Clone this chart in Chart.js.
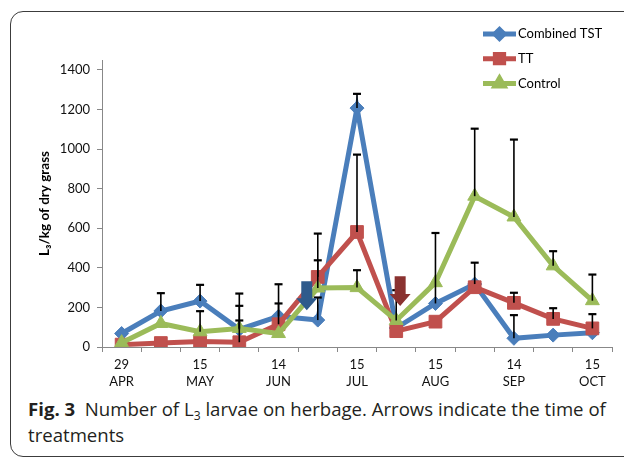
<!DOCTYPE html>
<html>
<head>
<meta charset="utf-8">
<script src="https://cdn.jsdelivr.net/npm/chart.js@4.4.0/dist/chart.umd.min.js"></script>
<style>
  html, body { margin: 0; padding: 0; background: #fff; }
  body { width: 624px; height: 461px; overflow: hidden; position: relative; }
  .frame {
    position: absolute; left: 10px; top: 11px; width: 660px; height: 444px;
    border: 1.4px solid #3c3c3c; border-radius: 13px;
  }
  #chart { position: absolute; left: 0; top: 0; }
  .caption {
    position: absolute; left: 28px; top: 396px; width: 592px;
    font-family: "Open Sans", sans-serif; font-size: 18.6px; line-height: 26px; color: #231f20;
  }
  .caption sub { font-size: 0.65em; line-height: 0; vertical-align: -0.3em; }
</style>
</head>
<body>
<div class="frame"></div>
<canvas id="chart" width="624" height="395"></canvas>
<div class="caption"><b>Fig. 3</b>&nbsp; Number of L<sub>3</sub> larvae on herbage. Arrows indicate the time of treatments</div>

<script>
// --- data --- //
// sampling dates, only every second one is labelled on the axis
const sampleLabels = ["29 APR", "", "15 MAY", "", "14 JUN", "", "15 JUL", "", "15 AUG", "", "14 SEP", "", "15 OCT"];

const combinedTST = [68, 182, 232, 89, 155, 136, 1207, 96, 220, 318, 44, 60, 72];
const ttValues    = [12, 20, 28, 24, 115, 354, 581, 80, 128, 302, 223, 142, 94];
const controlVals = [22, 119, 77, 94, 68, 298, 300, 134, 325, 762, 657, 410, 234];

// upper error bars (null = no bar drawn)
const combinedErr = [null, 90, 82, 181, 162, 114, 72, null, 356, 108, 117, null, null];
const ttErr       = [null, null, null, 110, 105, 219, 391, null, null, null, 51, 54, 72];
const controlErr  = [null, null, 104, 114, null, 140, 88, 153, null, 341, 391, 74, 132];

const yTicks = [0, 200, 400, 600, 800, 1000, 1200, 1400];

// treatment arrows: category position, top and tip value
const treatmentArrows = [
    { at: 4.72, top: 332, tip: 186, color: '#2f5b8c' },
    { at: 7.1, top: 358, tip: 207, color: '#8a3230' }
];

const FONT = 'Lato, "Open Sans", sans-serif';

// -- error bars drawn on top of the lines --//
const errorBars = {
    id: 'errorBars',
    afterDatasetsDraw(chart) {
        const ctx = chart.ctx;
        const y = chart.scales.y;
        ctx.save();
        ctx.strokeStyle = '#000';
        chart.data.datasets.forEach((ds, i) => {
            const meta = chart.getDatasetMeta(i);
            ds.errUp.forEach((err, j) => {
                if (err === null) return;
                const pt = meta.data[j];
                const top = y.getPixelForValue(ds.data[j] + err);
                ctx.lineWidth = 1.6;
                ctx.beginPath();
                ctx.moveTo(pt.x, pt.y);
                ctx.lineTo(pt.x, top);
                ctx.stroke();
                ctx.lineWidth = 2.2;
                ctx.beginPath();
                ctx.moveTo(pt.x - 4, top);
                ctx.lineTo(pt.x + 4, top);
                ctx.stroke();
            });
        });
        ctx.restore();
    }
};

// -- block arrows marking treatments --//
const arrows = {
    id: 'arrows',
    afterDatasetsDraw(chart) {
        const ctx = chart.ctx;
        const xs = chart.scales.x, ys = chart.scales.y;
        ctx.save();
        treatmentArrows.forEach(a => {
            const cx = xs.getPixelForValue(a.at);
            const y0 = ys.getPixelForValue(a.top);
            const y1 = ys.getPixelForValue(a.tip);
            const headH = 12, shaft = 5.5, head = 10.5;
            ctx.fillStyle = a.color;
            ctx.beginPath();
            ctx.moveTo(cx - shaft, y0);
            ctx.lineTo(cx + shaft, y0);
            ctx.lineTo(cx + shaft, y1 - headH);
            ctx.lineTo(cx + head, y1 - headH);
            ctx.lineTo(cx, y1);
            ctx.lineTo(cx - head, y1 - headH);
            ctx.lineTo(cx - shaft, y1 - headH);
            ctx.closePath();
            ctx.fill();
        });
        ctx.restore();
    }
};

// -- legend in the top right corner --//
const cornerLegend = {
    id: 'cornerLegend',
    afterDraw(chart) {
        const ctx = chart.ctx;
        ctx.save();
        chart.data.datasets.forEach((ds, i) => {
            const yy = 34 + i * 24.7;
            ctx.strokeStyle = ds.borderColor;
            ctx.lineWidth = 5;
            ctx.beginPath();
            ctx.moveTo(483, yy);
            ctx.lineTo(516, yy);
            ctx.stroke();
            ctx.fillStyle = ds.borderColor;
            ctx.strokeStyle = ds.borderColor;
            Chart.helpers.drawPoint(ctx, { pointStyle: ds.pointStyle, radius: ds.pointRadius * 0.65, borderWidth: 1, rotation: 0 }, 499.5, yy);
            ctx.fillStyle = '#000';
            ctx.font = '13px ' + FONT;
            ctx.textBaseline = 'middle';
            ctx.fillText(ds.label, 518, yy);
        });
        ctx.restore();
    }
};

const blue = '#4a7ebb', red = '#c0504d', green = '#9bbb59';

const chartData = {
    labels: sampleLabels,
    datasets: [
        { label: 'Combined TST', data: combinedTST, errUp: combinedErr, borderColor: blue, backgroundColor: blue,
          pointStyle: 'rectRot', pointRadius: 7, order: 3 },
        { label: 'TT', data: ttValues, errUp: ttErr, borderColor: red, backgroundColor: red,
          pointStyle: 'rect', pointRadius: 9, order: 2 },
        { label: 'Control', data: controlVals, errUp: controlErr, borderColor: green, backgroundColor: green,
          pointStyle: 'triangle', pointRadius: 8, order: 1 }
    ]
};

const chartOptions = {
    responsive: false,
    animation: false,
    layout: { padding: { left: 0, right: 12, top: 60, bottom: 0 } },
    elements: {
        line: { borderWidth: 5, tension: 0 },
        point: { borderWidth: 1 }
    },
    scales: {
        x: {
            type: 'category',
            offset: true,
            afterFit: s => { s.height = 48; },
            border: { color: '#888', width: 1 },
            grid: { offset: true, drawOnChartArea: false, tickLength: 5, color: '#888' },
            ticks: {
                autoSkip: false,
                maxRotation: 0,
                padding: 4,
                color: '#111',
                font: { family: FONT, size: 13, lineHeight: 1.3 },
                callback: function (v) {
                    const l = this.getLabelForValue(v);
                    return l ? l.split(' ') : '';
                }
            }
        },
        y: {
            min: 0,
            max: 1450,
            afterFit: s => { s.width = 102; },
            afterBuildTicks: s => { s.ticks = yTicks.map(v => ({ value: v })); },
            border: { color: '#888', width: 1 },
            grid: { drawOnChartArea: false, tickLength: 5, color: '#888' },
            ticks: {
                padding: 7,
                color: '#111',
                font: { family: FONT, size: 13 },
                callback: v => String(v)
            },
            title: {
                display: true,
                text: 'L\u2083/kg of dry grass',
                color: '#000',
                padding: { top: 37, bottom: 0 },
                font: { family: FONT, size: 13.5, weight: 'bold' }
            }
        }
    },
    plugins: {
        legend: { display: false },
        tooltip: { enabled: false }
    }
};

let larvaeChart = new Chart(document.getElementById('chart'), {
    type: 'line',
    data: chartData,
    options: chartOptions,
    plugins: [errorBars, arrows, cornerLegend]
});
</script>
</body>
</html>
